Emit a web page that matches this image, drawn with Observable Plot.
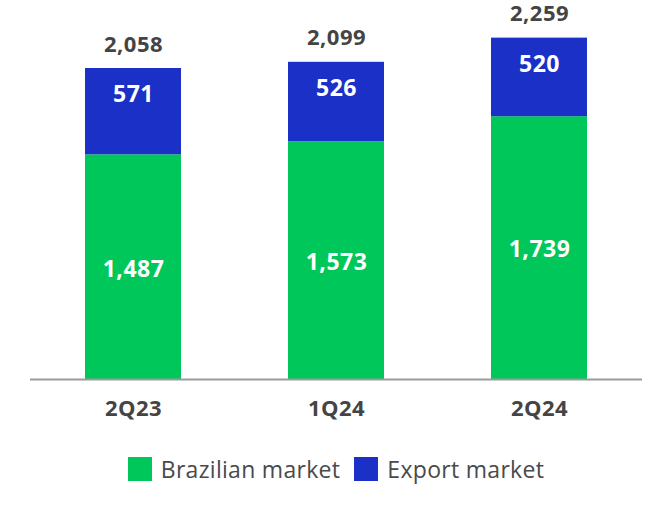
<!DOCTYPE html>
<html>
<head>
<meta charset="utf-8">
<script src="https://cdn.jsdelivr.net/npm/d3@7"></script>
<script src="https://cdn.jsdelivr.net/npm/@observablehq/plot@0.6"></script>
<style>
  html, body { margin: 0; padding: 0; background: #fff; }
  body { width: 672px; height: 518px; overflow: hidden; font-family: "Open Sans", sans-serif; }
  #legend { display: flex; justify-content: center; align-items: center; gap: 14px; margin-top: 13px; font-size: 23px; letter-spacing: 0.3px; color: #4a4a4a; }
  .item { display: flex; align-items: center; gap: 9px; }
  .sw { width: 24px; height: 24px; display: inline-block; }
</style>
</head>
<body>
<div id="chart"></div>
<div id="legend"></div>
<script>
const quarters = ["2Q23", "1Q24", "2Q24"];
const brazilian = [1487, 1573, 1739];
const exportMkt = [571, 526, 520];
const seriesNames = ["Brazilian market", "Export market"];
const colors = ["#00c75a", "#1a30c6"];

const rows = [];
quarters.forEach((q, i) => {
  rows.push({q, series: seriesNames[0], value: brazilian[i]});
  rows.push({q, series: seriesNames[1], value: exportMkt[i]});
});
const totals = quarters.map((q, i) => ({q, total: brazilian[i] + exportMkt[i], exp: exportMkt[i], br: brazilian[i]}));
const fmt = d3.format(",");

const chart = Plot.plot({
  width: 672,
  height: 440,
  marginTop: 0,
  marginBottom: 61,
  marginLeft: 30,
  marginRight: 30,
  style: {fontFamily: "'Open Sans', sans-serif", background: "#fff", letterSpacing: "0.5px", overflow: "visible"},
  x: {domain: quarters, paddingInner: 0.529, paddingOuter: 0.265, label: null},
  y: {domain: [0, 2508], axis: null},
  color: {domain: seriesNames, range: colors},
  marks: [
    Plot.barY(rows, Plot.stackY({x: "q", y: "value", fill: "series", order: seriesNames})),
    Plot.ruleY([0], {stroke: "#9a9a9a", strokeWidth: 2}),
    Plot.axisX({tickSize: 0, tickPadding: 21, fontSize: 22, fontWeight: "bold", fill: "#444", label: null}),
    Plot.text(totals, {x: "q", y: "total", text: d => fmt(d.total), dy: -24, fontSize: 22, fontWeight: "bold", fill: "#444"}),
    Plot.text(totals, {x: "q", y: "total", text: d => fmt(d.exp), dy: 26, fontSize: 23, fontWeight: "bold", fill: "#fff"}),
    Plot.text(totals, {x: "q", y: d => d.br / 2, text: d => fmt(d.br), dy: 2, fontSize: 23, fontWeight: "bold", fill: "#fff"})
  ]
});
document.getElementById("chart").appendChild(chart);

const legend = document.getElementById("legend");
seriesNames.forEach((name, i) => {
  const item = document.createElement("div");
  item.className = "item";
  const sw = document.createElement("span");
  sw.className = "sw";
  sw.style.background = colors[i];
  const label = document.createElement("span");
  label.textContent = name;
  item.appendChild(sw);
  item.appendChild(label);
  legend.appendChild(item);
});
</script>
</body>
</html>
